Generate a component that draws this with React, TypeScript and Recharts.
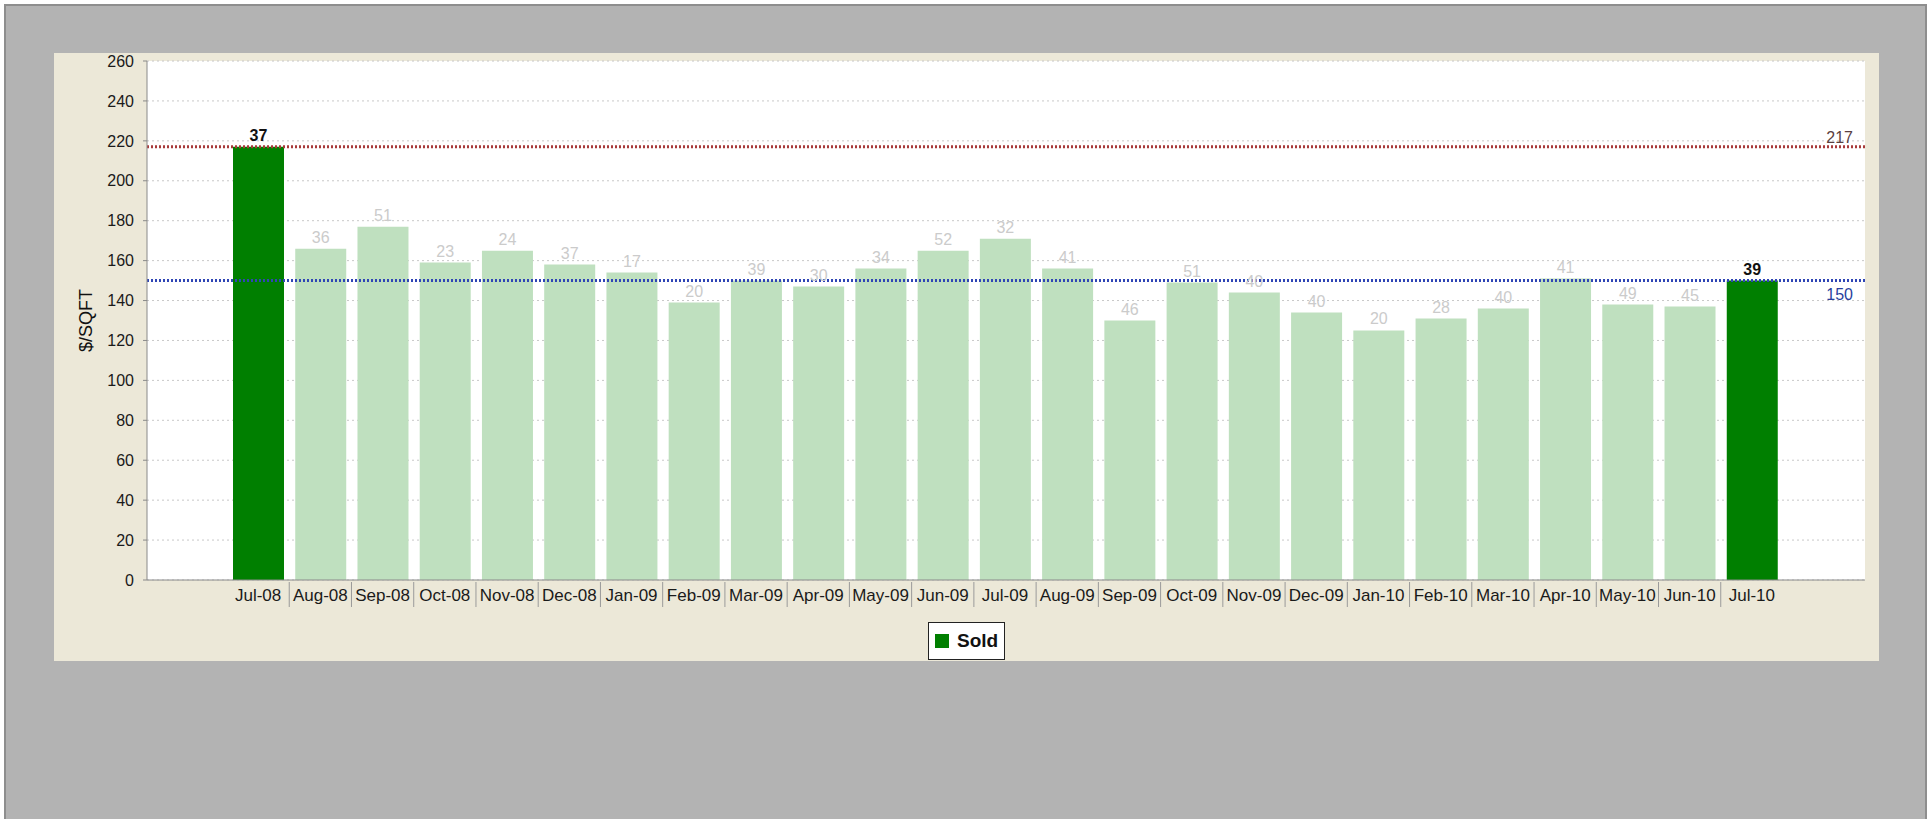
import React from 'react';
import { BarChart, Bar, XAxis, YAxis, CartesianGrid, ReferenceLine, LabelList, Legend, Cell } from 'recharts';

const months = [
  'Jul-08', 'Aug-08', 'Sep-08', 'Oct-08', 'Nov-08', 'Dec-08', 'Jan-09', 'Feb-09', 'Mar-09',
  'Apr-09', 'May-09', 'Jun-09', 'Jul-09', 'Aug-09', 'Sep-09', 'Oct-09', 'Nov-09', 'Dec-09',
  'Jan-10', 'Feb-10', 'Mar-10', 'Apr-10', 'May-10', 'Jun-10', 'Jul-10',
];
const pricePerSqft = [
  217, 166, 177, 159, 165, 158, 154, 139, 150, 147, 156, 165, 171, 156, 130, 149, 144, 134,
  125, 131, 136, 151, 138, 137, 150,
];
const soldCounts = [
  37, 36, 51, 23, 24, 37, 17, 20, 39, 30, 34, 52, 32, 41, 46, 51, 40, 40, 20, 28, 40, 41, 49, 45, 39,
];
const highlighted = ['Jul-08', 'Jul-10'];
const yTicks = [0, 20, 40, 60, 80, 100, 120, 140, 160, 180, 200, 220, 240, 260];
const startLevel = 217;
const endLevel = 150;

const data = months.map((month, i) => ({ month, price: pricePerSqft[i], sold: soldCounts[i] }));

const FONT = '"Liberation Sans", Arial, sans-serif';
const DARK_GREEN = '#007f00';
const LIGHT_GREEN = '#bfe0bf';
const AXIS = '#8a8a8a';

const W = 1825;
const H = 608;
const PAD_L = 80;
const PAD_R = 82;

function MonthTick(props: any) {
  const { x, y, payload, index } = props;
  const half = payload?.offset ?? (W - 14 - 93 - PAD_L - PAD_R) / months.length / 2;
  return (
    <g>
      <text x={x} y={y + 21} textAnchor="middle" fontSize={17} fontFamily={FONT} fill="#1a1a1a">
        {payload.value}
      </text>
      {index < months.length - 1 && (
        <line x1={x + half} x2={x + half} y1={y + 2} y2={y + 27} stroke="#9a9a9a" strokeWidth={1} />
      )}
    </g>
  );
}

function SoldLabel(props: any) {
  const { x, y, width, value, index } = props;
  const hi = highlighted.includes(months[index]);
  return (
    <text
      x={x + width / 2}
      y={y - 6}
      textAnchor="middle"
      fontSize={16}
      fontFamily={FONT}
      fontWeight={hi ? 'bold' : 'normal'}
      fill={hi ? '#111' : '#cbcbcb'}
    >
      {value}
    </text>
  );
}

function levelLabel(text: string, color: string, above: boolean) {
  return (props: any) => {
    const vb = props.viewBox;
    const tx = vb.x + vb.width - 12;
    const ty = above ? vb.y - 4 : vb.y + 19;
    return (
      <text x={tx} y={ty} textAnchor="end" fontSize={16} fontFamily={FONT} fill={color}>
        {text}
      </text>
    );
  };
}

function AxisTitle(props: any) {
  const vb = props.viewBox;
  const cx = vb.x + 32;
  const cy = vb.y + vb.height / 2;
  return (
    <text
      x={cx}
      y={cy}
      transform={`rotate(-90 ${cx} ${cy})`}
      textAnchor="middle"
      dominantBaseline="central"
      fontSize={18}
      fontFamily={FONT}
      fill="#111"
    >
      $/SQFT
    </text>
  );
}

function LegendBox() {
  return (
    <div style={{ height: 40, display: 'flex', justifyContent: 'center', alignItems: 'flex-start' }}>
      <div
        style={{
          marginTop: 1,
          height: 38,
          width: 77,
          boxSizing: 'border-box',
          border: '1.5px solid #222',
          background: '#fff',
          display: 'flex',
          alignItems: 'center',
          paddingLeft: 6,
          gap: 8,
        }}
      >
        <span style={{ width: 14, height: 14, background: DARK_GREEN, display: 'inline-block' }} />
        <span style={{ fontWeight: 'bold', fontSize: 19, fontFamily: FONT, color: '#111' }}>Sold</span>
      </div>
    </div>
  );
}

export default function App() {
  return (
    <div style={{ position: 'fixed', left: 0, top: 0, width: 1929, height: 819, background: '#fff', overflow: 'hidden' }}>
      <div
        style={{
          position: 'absolute',
          left: 4,
          top: 4,
          width: 1919,
          height: 900,
          background: '#b3b3b3',
          border: '2px solid #8e8e8e',
        }}
      />
      <div style={{ position: 'absolute', left: 54, top: 53, width: W, height: H, background: '#ece8d8' }}>
        <BarChart width={W} height={H} data={data} margin={{ top: 8, right: 14, bottom: 0, left: 0 }}>
          <CartesianGrid vertical={false} fill="#ffffff" stroke="#c8c8c8" strokeDasharray="2 3" />
          <XAxis
            dataKey="month"
            height={41}
            interval={0}
            padding={{ left: PAD_L, right: PAD_R }}
            tickSize={0}
            tickMargin={0}
            tickLine={false}
            axisLine={{ stroke: AXIS }}
            tick={(p: any) => <MonthTick {...p} />}
          />
          <XAxis
            xAxisId="top"
            dataKey="month"
            orientation="top"
            height={0}
            tick={false}
            tickLine={false}
            axisLine={{ stroke: '#a8a8a8' }}
          />
          <YAxis
            domain={[0, 260]}
            ticks={yTicks}
            interval={0}
            width={93}
            tickSize={4}
            tickMargin={9}
            axisLine={{ stroke: AXIS }}
            tickLine={{ stroke: AXIS }}
            tick={{ fill: '#1a1a1a', fontSize: 16, fontFamily: FONT }}
            label={(p: any) => <AxisTitle {...p} />}
          />
          <YAxis
            yAxisId="r"
            orientation="right"
            width={0}
            domain={[0, 260]}
            tick={false}
            tickLine={false}
            axisLine={{ stroke: '#a8a8a8' }}
          />
          <Bar dataKey="price" barSize={51} isAnimationActive={false}>
            {data.map((d) => (
              <Cell key={d.month} fill={highlighted.includes(d.month) ? DARK_GREEN : LIGHT_GREEN} />
            ))}
            <LabelList dataKey="sold" content={(p: any) => <SoldLabel {...p} />} />
          </Bar>
          <ReferenceLine
            y={startLevel}
            stroke="#a83a3a"
            strokeWidth={3}
            strokeDasharray="2 2"
            label={levelLabel(String(startLevel), '#5a4040', true)}
          />
          <ReferenceLine
            y={endLevel}
            stroke="#2f45b5"
            strokeWidth={3}
            strokeDasharray="2 2"
            label={levelLabel(String(endLevel), '#2a3f9e', false)}
          />
          <Legend
            verticalAlign="bottom"
            align="center"
            wrapperStyle={{ left: 0, width: W, bottom: 0, height: 40 }}
            content={() => <LegendBox />}
          />
        </BarChart>
      </div>
    </div>
  );
}
